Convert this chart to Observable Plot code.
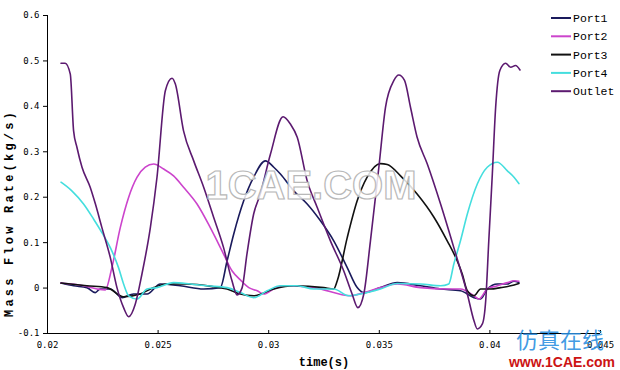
<!DOCTYPE html>
<html>
<head>
<meta charset="utf-8">
<script src="https://cdn.jsdelivr.net/npm/d3@7"></script>
<script src="https://cdn.jsdelivr.net/npm/@observablehq/plot@0.6"></script>
<style>
  html, body { margin: 0; padding: 0; background: #fff; }
  #chart { position: relative; width: 620px; height: 370px; overflow: hidden; }
</style>
</head>
<body>
<div id="chart"></div>
<script>
// ---- data ----
const xTicks = [0.02, 0.025, 0.03, 0.035, 0.04, 0.045];
const xTickLabels = ["0.02", "0.025", "0.03", "0.035", "0.04", "0.045"];
const yTicks = [-0.1, 0, 0.1, 0.2, 0.3, 0.4, 0.5, 0.6];
const yTickLabels = ["-0.1", "0", "0.1", "0.2", "0.3", "0.4", "0.5", "0.6"];
const seriesNames = ["Port1", "Port2", "Port3", "Port4", "Outlet"];
const seriesColors = ["#1a1a5c", "#cc44cc", "#111111", "#44dede", "#5c1a70"];
const xLabel = "time(s)";
const yLabel = "Mass Flow Rate(kg/s)";

// [time (s), mass flow rate (kg/s)]
const port1 = [[0.02061,0.011],[0.02118,0.005],[0.02178,0.001],[0.02216,-0.010],[0.02238,-0.002],[0.02284,-0.002],[0.02337,-0.021],[0.02389,-0.013],[0.0245,-0.013],[0.0251,0.009],[0.026,0.005],[0.02706,-0.002],[0.02781,0.001],[0.02812,0.060],[0.02842,0.119],[0.02887,0.192],[0.02932,0.244],[0.02985,0.280],[0.03023,0.266],[0.03053,0.251],[0.03113,0.214],[0.03174,0.185],[0.03234,0.148],[0.03294,0.104],[0.03355,0.045],[0.034,0.001],[0.0343,-0.010],[0.03505,0.001],[0.03581,0.012],[0.03686,0.005],[0.03777,-0.002],[0.03867,-0.006],[0.03928,-0.021],[0.03958,-0.024],[0.03988,-0.002],[0.04034,0.009],[0.04079,0.009],[0.04109,0.015],[0.04131,0.012]];
const port2 = [[0.02061,0.011],[0.02163,0.005],[0.02224,-0.002],[0.02261,-0.004],[0.02291,0.045],[0.02329,0.133],[0.02367,0.200],[0.02405,0.244],[0.02442,0.266],[0.0248,0.273],[0.02525,0.262],[0.0257,0.247],[0.02615,0.222],[0.02676,0.185],[0.02736,0.133],[0.02789,0.082],[0.02834,0.038],[0.02872,0.018],[0.0291,0.001],[0.02948,-0.006],[0.02977,-0.013],[0.03023,-0.002],[0.03068,0.005],[0.03204,0.001],[0.0337,-0.017],[0.0343,-0.010],[0.03505,0.001],[0.03581,0.009],[0.03686,0.001],[0.03807,-0.002],[0.03867,-0.002],[0.03928,-0.017],[0.0395,-0.024],[0.03988,-0.002],[0.04034,0.005],[0.04079,0.012],[0.04109,0.016],[0.04131,0.015]];
const port3 = [[0.02061,0.011],[0.02178,0.005],[0.02269,0.001],[0.02344,-0.019],[0.02419,-0.013],[0.0248,0.001],[0.0254,0.009],[0.02631,0.009],[0.02751,0.003],[0.02812,-0.002],[0.02872,-0.013],[0.02932,-0.017],[0.03023,-0.002],[0.03113,0.005],[0.03249,0.001],[0.03294,-0.002],[0.0331,0.016],[0.03355,0.111],[0.034,0.192],[0.03445,0.244],[0.03505,0.274],[0.03536,0.272],[0.03596,0.247],[0.03671,0.207],[0.03747,0.156],[0.03807,0.104],[0.03852,0.060],[0.03875,0.031],[0.03898,-0.006],[0.03928,-0.017],[0.03958,-0.002],[0.04003,-0.002],[0.04048,0.001],[0.04094,0.005],[0.04131,0.010]];
const port4 = [[0.02061,0.233],[0.0211,0.214],[0.02163,0.185],[0.02208,0.152],[0.02246,0.122],[0.02284,0.089],[0.02321,0.045],[0.02344,0.009],[0.02367,-0.017],[0.02405,-0.024],[0.0245,-0.002],[0.02495,0.001],[0.0257,0.012],[0.02646,0.009],[0.02721,0.005],[0.02812,0.001],[0.02872,-0.010],[0.02932,-0.021],[0.02993,-0.006],[0.03053,0.005],[0.03129,0.005],[0.03204,-0.002],[0.03294,-0.002],[0.03362,-0.017],[0.03415,-0.013],[0.03505,-0.002],[0.03581,0.010],[0.03686,0.009],[0.03777,0.005],[0.03814,0.009],[0.03837,0.053],[0.03867,0.104],[0.03898,0.163],[0.03943,0.229],[0.03988,0.266],[0.04034,0.277],[0.04079,0.258],[0.04109,0.244],[0.04131,0.230]];
const outlet = [[0.02061,0.495],[0.0208,0.495],[0.02103,0.471],[0.02118,0.346],[0.02133,0.310],[0.02156,0.266],[0.02193,0.222],[0.02216,0.186],[0.02246,0.133],[0.02284,0.067],[0.02314,0.001],[0.02344,-0.043],[0.02367,-0.063],[0.02397,-0.035],[0.02427,0.031],[0.02465,0.133],[0.02495,0.244],[0.02533,0.435],[0.02563,0.462],[0.02578,0.449],[0.02615,0.346],[0.02661,0.280],[0.02706,0.222],[0.02751,0.156],[0.02796,0.089],[0.02834,0.016],[0.02857,-0.015],[0.0288,0.001],[0.02902,0.076],[0.02932,0.163],[0.02962,0.207],[0.03008,0.295],[0.03065,0.377],[0.03098,0.361],[0.03129,0.332],[0.03174,0.236],[0.03219,0.178],[0.03279,0.104],[0.03339,0.038],[0.03377,-0.013],[0.03403,-0.043],[0.0343,-0.013],[0.0346,0.104],[0.03498,0.266],[0.03528,0.398],[0.03566,0.457],[0.03588,0.469],[0.03614,0.457],[0.03641,0.398],[0.03671,0.332],[0.03717,0.273],[0.03777,0.185],[0.03837,0.089],[0.03898,-0.013],[0.03928,-0.072],[0.03943,-0.090],[0.03966,-0.079],[0.03981,-0.028],[0.03995,0.104],[0.04011,0.251],[0.04026,0.398],[0.04045,0.479],[0.04071,0.495],[0.04094,0.486],[0.04116,0.490],[0.04136,0.480]];

const seriesData = [port1, port2, port3, port4, outlet];
const rows = seriesData.flatMap((s, k) => s.map(([t, v]) => ({series: seriesNames[k], t, v})));

const fmtX = d => xTickLabels[xTicks.indexOf(d)];
const fmtY = d => yTickLabels[yTicks.indexOf(d)];

const plot = Plot.plot({
  width: 620,
  height: 370,
  marginLeft: 47,
  marginRight: 20,
  marginTop: 15,
  marginBottom: 37,
  style: {fontFamily: "'DejaVu Sans Mono', monospace", fontSize: "9px", background: "#fff", color: "#000", overflow: "visible"},
  x: {domain: [xTicks[0], xTicks[xTicks.length - 1]]},
  y: {domain: [yTicks[0], yTicks[yTicks.length - 1]]},
  color: {domain: seriesNames, range: seriesColors},
  marks: [
    Plot.axisY({ticks: yTicks, tickFormat: fmtY, tickSize: 4, tickPadding: 4, label: null}),
    Plot.axisX({ticks: xTicks, tickFormat: fmtX, tickSize: -3, tickPadding: 11, label: null}),
    Plot.ruleX([xTicks[0]], {stroke: "#000"}),
    Plot.ruleY([yTicks[0]], {stroke: "#000"}),
    Plot.line(rows, {x: "t", y: "v", z: "series", stroke: "series", curve: "monotone-x", strokeWidth: 1.6})
  ]
});

document.getElementById("chart").appendChild(plot);

// ---- labels, legend, watermarks ----
const svg = d3.select(plot);

svg.append("text")
  .attr("transform", "translate(13,213) rotate(-90)")
  .attr("text-anchor", "middle")
  .attr("font-family", "'Liberation Mono', monospace")
  .attr("font-weight", "bold")
  .attr("font-size", 12)
  .attr("letter-spacing", 3.2)
  .attr("fill", "#000")
  .text(yLabel);

svg.append("text")
  .attr("x", 324).attr("y", 366)
  .attr("text-anchor", "middle")
  .attr("font-family", "'Liberation Mono', monospace")
  .attr("font-weight", "bold")
  .attr("font-size", 12)
  .attr("fill", "#000")
  .text(xLabel);

const lg = svg.append("g");
seriesNames.forEach((name, i) => {
  const y = 18 + i * 18.3;
  lg.append("line").attr("x1", 551).attr("x2", 571).attr("y1", y).attr("y2", y)
    .attr("stroke", seriesColors[i]).attr("stroke-width", 2);
  lg.append("text").attr("x", 573).attr("y", y).attr("dy", "0.35em")
    .attr("text-anchor", "start")
    .attr("font-family", "'Liberation Mono', monospace").attr("font-size", 11.5)
    .attr("fill", "#000").text(name);
});

svg.append("text")
  .attr("x", 311).attr("y", 199)
  .attr("text-anchor", "middle")
  .attr("font-family", "'Liberation Sans', Arial, sans-serif")
  .attr("font-weight", "bold")
  .attr("font-size", 40)
  .attr("fill", "#ffffff").attr("fill-opacity", 0.85)
  .attr("stroke", "#b8b8b8").attr("stroke-width", 1.2)
  .text("1CAE.COM");

svg.append("text")
  .attr("x", 560).attr("y", 348)
  .attr("text-anchor", "middle")
  .attr("font-family", "'Noto Sans CJK SC', sans-serif")
  .attr("font-size", 22)
  .attr("fill", "#2a8ee0").attr("fill-opacity", 0.9)
  .text("仿真在线");

svg.append("text")
  .attr("x", 562).attr("y", 367)
  .attr("text-anchor", "middle")
  .attr("font-family", "'Liberation Sans', Arial, sans-serif")
  .attr("font-weight", "bold")
  .attr("font-size", 14)
  .attr("fill", "#cc1414")
  .text("www.1CAE.com");
</script>
</body>
</html>
